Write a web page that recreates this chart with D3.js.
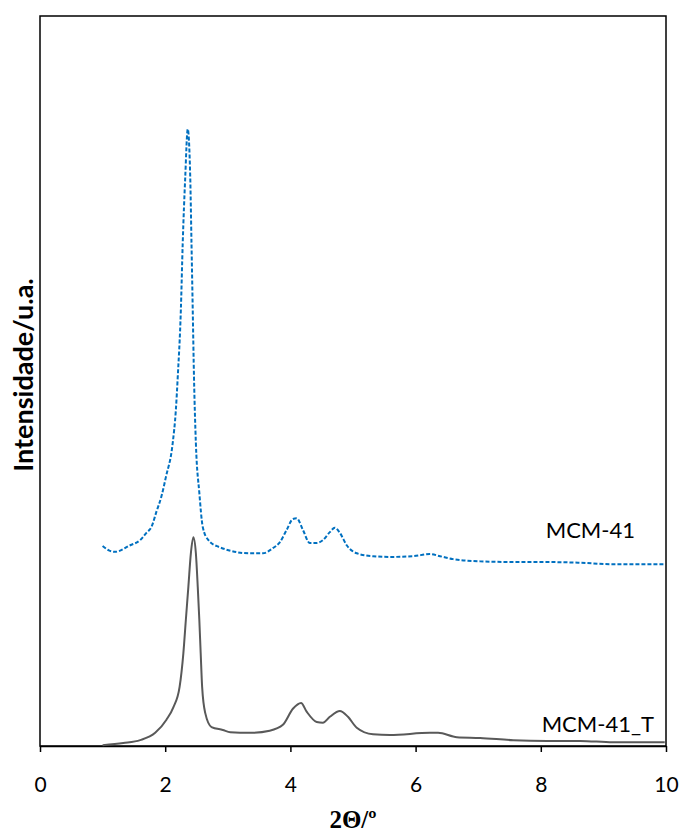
<!DOCTYPE html>
<html>
<head>
<meta charset="utf-8">
<script src="https://cdn.jsdelivr.net/npm/d3@7"></script>
<style>
  body { margin: 0; background: #fff; }
  .axis text { font-family: Lato, "Open Sans", sans-serif; font-size: 21px; fill: #000; }
  .axis path, .axis line { stroke: #000; stroke-width: 1.5; }
</style>
</head>
<body>
<div class="chart"></div>
<script>
// 2theta (deg) and intensity (a.u.)
const mcmTheta = [1.0, 1.1, 1.2, 1.44, 1.6, 1.7, 1.78, 1.86, 1.94, 2.01, 2.12, 2.17, 2.20, 2.25, 2.28, 2.32, 2.36,
  2.40, 2.42, 2.44, 2.46, 2.49, 2.545, 2.60, 2.69, 2.85, 3.35, 3.56, 3.72, 3.83, 3.94, 4.04, 4.10, 4.20,
  4.31, 4.42, 4.52, 4.63, 4.71, 4.79, 4.90, 5.06, 5.32, 5.59, 5.96, 6.23, 6.39, 6.60, 7.03, 7.56, 8.10,
  8.63, 9.15, 9.98];
const mcmInt = [274, 268, 266, 275, 282, 292, 300, 321, 342, 368, 415, 460, 505, 597, 689, 779, 845,
  779, 689, 597, 505, 415, 347, 300, 282, 273, 264, 264, 271, 279, 296, 311, 312, 296,
  278, 278, 282, 293, 299, 292, 275, 264, 260, 259, 260, 263, 260, 256, 253, 252, 252,
  251, 249, 249];

const mcmTTheta = [1.0, 1.33, 1.6, 1.84, 2.02, 2.13, 2.23, 2.29, 2.33, 2.37, 2.41, 2.45, 2.49, 2.52, 2.545,
  2.567, 2.59, 2.64, 2.74, 2.92, 3.04, 3.35, 3.67, 3.88, 4.04, 4.17, 4.26, 4.42, 4.52, 4.63, 4.79,
  4.92, 5.06, 5.32, 5.59, 6.23, 6.36, 6.66, 7.03, 7.56, 8.1, 8.63, 9.15, 9.98];
const mcmTInt = [1, 4, 8, 18, 36, 53, 81, 127, 173, 218, 264, 286, 264, 218, 173,
  127, 81, 45, 26, 22, 19, 18, 21, 29, 51, 59, 47, 33, 32, 40, 48,
  40, 25, 16, 15, 18, 18, 12, 11, 8, 7, 7, 5, 5];

const xTicks = [0, 2, 4, 6, 8, 10];

const W = 683, H = 835;
const margin = {top: 16, right: 17, bottom: 89, left: 40};
const width = W - margin.left - margin.right,
  height = H - margin.top - margin.bottom;

const svg = d3.select(".chart").append("svg")
  .attr("width", W)
  .attr("height", H)
  .append("g")
  .attr("transform", "translate(" + margin.left + "," + margin.top + ")");

const x = d3.scaleLinear().domain([0, 10]).range([0, width]);
const y = d3.scaleLinear().domain([0, 1000]).range([height, 0]);

// frame
svg.append("rect")
  .attr("width", width)
  .attr("height", height)
  .attr("fill", "none")
  .attr("stroke", "#000")
  .attr("stroke-width", 1.5);

const xAxis = d3.axisBottom(x).tickValues(xTicks).tickSize(6).tickSizeOuter(0).tickPadding(25);
svg.append("g")
  .attr("class", "axis x-axis")
  .attr("transform", "translate(0," + height + ")")
  .call(xAxis);

const line = d3.line()
  .x(d => x(d[0]))
  .y(d => y(d[1]))
  .curve(d3.curveMonotoneX);

svg.append("path")
  .datum(mcmTheta.map((t, i) => [t, mcmInt[i]]))
  .attr("d", line)
  .attr("fill", "none")
  .attr("stroke", "#0070C0")
  .attr("stroke-width", 2)
  .attr("stroke-dasharray", "4,2");

svg.append("path")
  .datum(mcmTTheta.map((t, i) => [t, mcmTInt[i]]))
  .attr("d", line)
  .attr("fill", "none")
  .attr("stroke", "#595959")
  .attr("stroke-width", 2);

// series labels
svg.append("text")
  .text("MCM-41")
  .attr("x", 595)
  .attr("y", 522)
  .attr("text-anchor", "end")
  .style("font-family", "Lato, 'Open Sans', sans-serif")
  .style("font-size", "22px");

svg.append("text")
  .text("MCM-41_T")
  .attr("x", 614)
  .attr("y", 716)
  .attr("text-anchor", "end")
  .style("font-family", "Lato, 'Open Sans', sans-serif")
  .style("font-size", "22px");

// axis titles
svg.append("text")
  .text("2\u0398/\u00BA")
  .attr("x", width / 2)
  .attr("y", height + 82)
  .attr("text-anchor", "middle")
  .style("font-family", "'Liberation Serif', 'DejaVu Serif', serif")
  .style("font-weight", "bold")
  .style("font-size", "25px");

svg.append("text")
  .text("Intensidade/u.a.")
  .attr("transform", "translate(-7,359)rotate(-90)")
  .attr("text-anchor", "middle")
  .style("font-family", "Lato, 'Open Sans', sans-serif")
  .style("font-weight", "bold")
  .style("font-size", "27px");
</script>
</body>
</html>
